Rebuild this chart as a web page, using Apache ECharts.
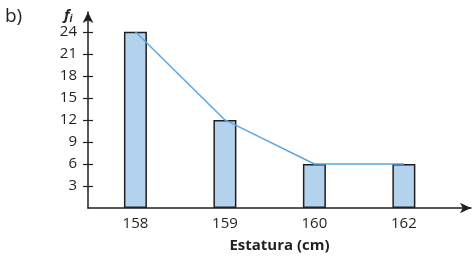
<!DOCTYPE html>
<html>
<head>
<meta charset="utf-8">
<script src="https://cdn.jsdelivr.net/npm/echarts@6/dist/echarts.min.js"></script>
<style>
  html, body { margin: 0; padding: 0; background: #fff; }
  #chart { width: 474px; height: 256px; }
</style>
</head>
<body>
<div id="chart"></div>
<script>
// data
const categories = ["158", "159", "160", "162"];
const positions = [0, 1, 2, 3];
const frequencies = [24, 12, 6, 6];
const yTicks = [3, 6, 9, 12, 15, 18, 21, 24];

const font = "Open Sans";
const ink = "#231f20";

const points = positions.map((p, i) => [p, frequencies[i]]);

const chart = echarts.init(document.getElementById("chart"));
chart.setOption({
  animation: false,
  textStyle: { fontFamily: font },
  grid: { left: 88, right: 3, top: 12, bottom: 48, containLabel: false, outerBoundsMode: "none" },
  xAxis: {
    type: "value",
    min: -0.53,
    max: 3.75,
    name: "Estatura (cm)",
    nameLocation: "middle",
    nameGap: 30,
    nameTextStyle: { color: ink, fontSize: 15, fontWeight: "bold", fontFamily: font },
    splitLine: { show: false },
    axisLine: {
      show: true,
      onZero: false,
      lineStyle: { color: ink, width: 1.5 },
      symbol: ["none", "arrow"],
      symbolSize: [8, 11],
    },
    axisTick: { show: false },
    axisLabel: {
      customValues: positions,
      formatter: (v) => categories[positions.indexOf(v)] || "",
      color: ink,
      fontSize: 15,
      margin: 8,
    },
  },
  yAxis: [
    {
      type: "value",
      min: 0,
      max: 26.7,
      splitLine: { show: false },
      axisLine: {
        show: true,
        onZero: false,
        lineStyle: { color: ink, width: 1.5 },
        symbol: ["none", "arrow"],
        symbolSize: [8, 11],
      },
      axisTick: { show: true, customValues: yTicks, length: 5, lineStyle: { color: ink, width: 1.2 } },
      axisLabel: { customValues: yTicks, color: ink, fontSize: 15, margin: 11 },
    },
    {
      type: "value",
      min: 0,
      max: 26.7,
      position: "left",
      splitLine: { show: false },
      axisLine: { show: false, onZero: false },
      axisTick: { show: true, inside: true, customValues: yTicks, length: 5, lineStyle: { color: ink, width: 1.2 } },
      axisLabel: { show: false },
    },
  ],
  series: [
    {
      type: "bar",
      data: points,
      barWidth: 23,
      itemStyle: { color: "#b3d2ee", borderColor: ink, borderWidth: 1.5 },
      z: 2,
    },
    {
      type: "line",
      data: points,
      symbol: "none",
      lineStyle: { color: "#5ba7de", width: 1.5 },
      z: 3,
    },
  ],
  graphic: [
    {
      type: "text",
      left: 5,
      top: 7,
      style: { text: "b)", font: "19px 'Open Sans'", fill: ink },
    },
    {
      type: "text",
      left: 64,
      top: 8,
      style: {
        text: "{f|f}{i|i}",
        rich: {
          f: { fontFamily: font, fontSize: 15, fontWeight: "bold", fontStyle: "italic", fill: ink },
          i: { fontFamily: font, fontSize: 10, fontWeight: "bold", fontStyle: "italic", fill: ink, padding: [8, 0, 0, 0] },
        },
      },
    },
  ],
});
</script>
</body>
</html>
